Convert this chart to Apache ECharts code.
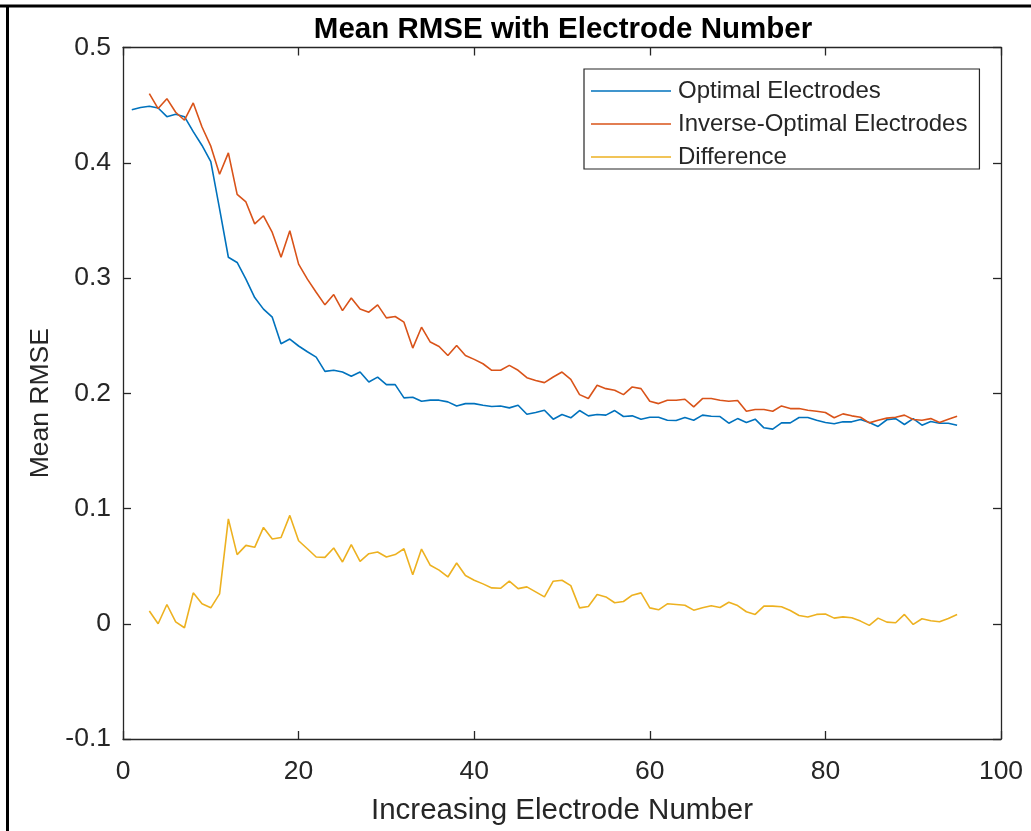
<!DOCTYPE html>
<html>
<head>
<meta charset="utf-8">
<script src="https://cdn.jsdelivr.net/npm/echarts@6/dist/echarts.min.js"></script>
<style>
html,body{margin:0;padding:0;background:#fff;}
#c{width:1031px;height:831px;}
</style>
</head>
<body>
<div id="c"></div>
<script>
const electrodes = [1,2,3,4,5,6,7,8,9,10,11,12,13,14,15,16,17,18,19,20,21,22,23,24,25,26,27,28,29,30,31,32,33,34,35,36,37,38,39,40,41,42,43,44,45,46,47,48,49,50,51,52,53,54,55,56,57,58,59,60,61,62,63,64,65,66,67,68,69,70,71,72,73,74,75,76,77,78,79,80,81,82,83,84,85,86,87,88,89,90,91,92,93,94,95];

const optimal = [0.446,0.448,0.449,0.4475,0.440,0.442,0.440,0.427,0.415,0.401,
0.360,0.318,0.3135,0.299,0.283,0.273,0.266,0.243,0.247,0.241,
0.236,0.2314,0.219,0.220,0.2185,0.2147,0.2185,0.2098,0.214,0.2075,
0.2075,0.196,0.1965,0.193,0.194,0.194,0.1925,0.189,0.191,0.191,
0.1896,0.1885,0.189,0.1873,0.1896,0.1818,0.1833,0.1853,0.1775,0.1815,
0.1787,0.185,0.1804,0.1815,0.181,0.185,0.1798,0.1804,0.1775,0.1792,
0.1792,0.1766,0.1764,0.179,0.1766,0.181,0.180,0.1798,0.174,0.178,
0.1746,0.1775,0.170,0.1689,0.1743,0.1743,0.179,0.179,0.1766,0.1746,
0.1735,0.1752,0.1752,0.1772,0.1746,0.1712,0.177,0.178,0.1729,0.178,
0.1723,0.1755,0.174,0.174,0.1723];

const inverseOptimal = [null,null,0.460,0.447,0.4556,0.4438,0.4369,0.4519,0.431,0.4144,
0.390,0.4086,0.3726,0.366,0.347,0.354,0.3395,0.318,0.341,0.312,
0.299,0.2876,0.2767,0.2856,0.2717,0.2827,0.2732,0.2703,0.2767,0.2654,
0.2666,0.2617,0.2392,0.2573,0.2444,0.2406,0.2328,0.2415,0.2328,0.2294,
0.2256,0.2199,0.2199,0.2242,0.2199,0.2135,0.211,0.2092,0.2141,0.2184,
0.2121,0.1988,0.1954,0.2069,0.204,0.2026,0.1988,0.2055,0.204,0.1931,
0.191,0.1939,0.1939,0.1948,0.1882,0.1954,0.1954,0.1939,0.1931,0.1937,
0.1844,0.1859,0.1859,0.1844,0.189,0.1867,0.1867,0.1853,0.1844,0.1833,
0.1787,0.1821,0.1804,0.1792,0.1743,0.1766,0.1784,0.1792,0.181,0.1772,
0.1766,0.178,0.1746,0.1775,0.1801];

const difference = [null,null,0.011,0.0,0.0167,0.0017,-0.0035,0.0268,0.0173,0.0138,
0.0259,0.091,0.060,0.068,0.0663,0.0836,0.0735,0.0749,0.094,0.072,
0.0651,0.0579,0.0576,0.0657,0.0536,0.0686,0.0542,0.0608,0.0622,0.0579,
0.060,0.0651,0.0426,0.0648,0.0507,0.0465,0.0406,0.0527,0.0418,0.0377,
0.0346,0.0311,0.0308,0.0369,0.0305,0.032,0.0277,0.0233,0.0369,0.0377,
0.0331,0.0138,0.015,0.0254,0.0233,0.0182,0.0193,0.0248,0.0268,0.0138,
0.0121,0.0173,0.0167,0.0161,0.0118,0.0138,0.0156,0.0141,0.0187,0.0158,
0.0104,0.0081,0.0153,0.0153,0.0147,0.0115,0.0072,0.0058,0.0081,0.0084,
0.0049,0.006,0.0052,0.0023,-0.0014,0.0049,0.0014,0.0009,0.0081,-0.0006,
0.0043,0.0026,0.0017,0.0046,0.0081];

const seriesNames = ['Optimal Electrodes','Inverse-Optimal Electrodes','Difference'];
const seriesColors = ['#0072BD','#D95319','#EDB120'];
const titleText = 'Mean RMSE with Electrode Number';
const xLabel = 'Increasing Electrode Number';
const yLabel = 'Mean RMSE';

const FONT = '"Liberation Sans", Arial, Helvetica, sans-serif';
const AX = '#262626';

function pairs(vals){ return electrodes.map((x,i)=>[x, vals[i]]); }

const chart = echarts.init(document.getElementById('c'), null, {renderer:'canvas'});

const baseX = {
  type:'value', min:0, max:100, interval:20,
  axisLine:{show:true, onZero:false, lineStyle:{color:AX, width:1.3}},
  axisTick:{show:true, inside:true, length:8, lineStyle:{color:AX, width:1.3}},
  splitLine:{show:false}
};
const baseY = {
  type:'value', min:-0.1, max:0.5, interval:0.1,
  axisLine:{show:true, onZero:false, lineStyle:{color:AX, width:1.3}},
  axisTick:{show:true, inside:true, length:8, lineStyle:{color:AX, width:1.3}},
  splitLine:{show:false}
};

const option = {
  backgroundColor:'#ffffff',
  animation:false,
  title:{
    text:titleText, left:558, top:10, textAlign:'center',
    textStyle:{fontFamily:FONT, fontWeight:'bold', fontSize:29.5, color:'#000'}
  },
  grid:{left:123, top:47.5, right:30, bottom:89, containLabel:false},
  legend:{
    orient:'vertical', left:584, top:69,
    data:seriesNames,
    itemWidth:80, itemHeight:20, itemGap:9,
    padding:[10,12,0,7],
    borderColor:AX, borderWidth:1.2, backgroundColor:'#fff',
    textStyle:{fontFamily:FONT, fontSize:24, color:AX, padding:[0,0,0,2]},
    icon:'path://M0,10 L80,10 L80,11.6 L0,11.6 Z'
  },
  xAxis:[
    Object.assign({}, baseX, {
      position:'bottom',
      name:xLabel, nameLocation:'middle', nameGap:57,
      nameTextStyle:{fontFamily:FONT, fontSize:29.5, color:AX},
      axisLabel:{show:true, margin:19, fontFamily:FONT, fontSize:26.5, color:AX}
    }),
    Object.assign({}, baseX, {position:'top', axisLabel:{show:false}})
  ],
  yAxis:[
    Object.assign({}, baseY, {
      position:'left',
      name:yLabel, nameLocation:'middle', nameGap:68,
      nameTextStyle:{fontFamily:FONT, fontSize:26.5, color:AX, padding:[0,20,0,0]},
      axisLabel:{show:true, margin:12, fontFamily:FONT, fontSize:26.5, color:AX,
        formatter:function(v){ return String(parseFloat(v.toFixed(1))); }}
    }),
    Object.assign({}, baseY, {position:'right', axisLabel:{show:false}})
  ],
  series:[optimal, inverseOptimal, difference].map((vals,i)=>({
    name:seriesNames[i], type:'line', xAxisIndex:0, yAxisIndex:0,
    data:pairs(vals), showSymbol:false, symbol:'none',
    connectNulls:false,
    itemStyle:{color:seriesColors[i]},
    lineStyle:{color:seriesColors[i], width:1.6}
  })),
  graphic:[
    {type:'line', shape:{x1:0,y1:6,x2:1031,y2:6}, style:{stroke:'#000', lineWidth:3}, silent:true},
    {type:'line', shape:{x1:7.5,y1:5,x2:7.5,y2:831}, style:{stroke:'#000', lineWidth:3}, silent:true}
  ]
};
chart.setOption(option);
</script>
</body>
</html>
